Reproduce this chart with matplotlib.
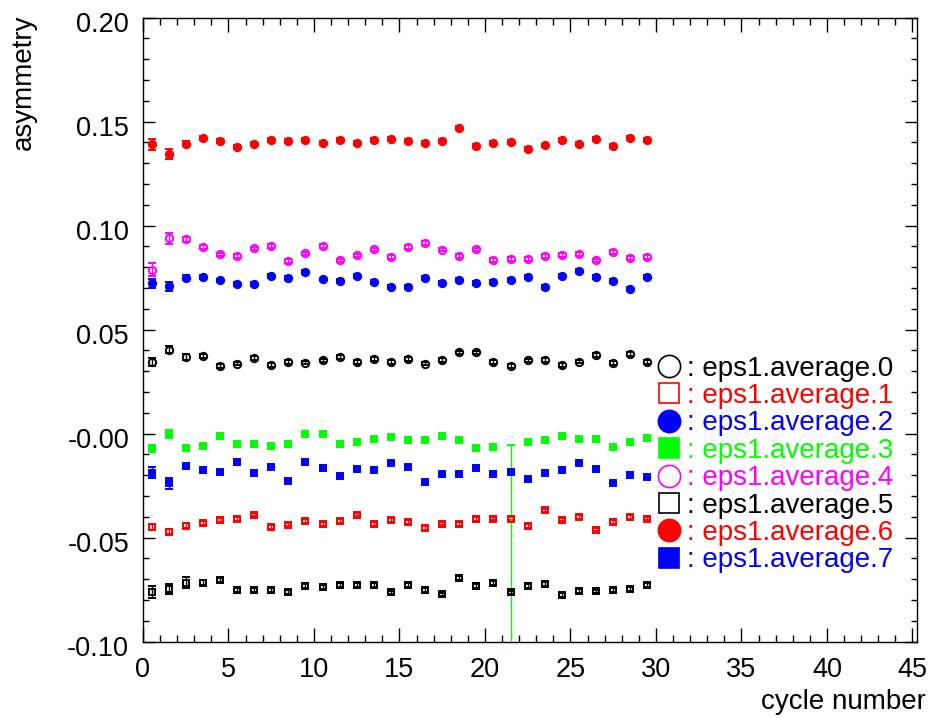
import matplotlib
matplotlib.use("Agg")
import matplotlib.pyplot as plt
from matplotlib.lines import Line2D
from matplotlib.ticker import MultipleLocator, FixedLocator
from matplotlib.transforms import ScaledTranslation

plt.rcParams['font.family'] = ['Liberation Sans', 'DejaVu Sans']

cycles = [0.5, 1.5, 2.5, 3.5, 4.5, 5.5, 6.5, 7.5, 8.5, 9.5,
          10.5, 11.5, 12.5, 13.5, 14.5, 15.5, 16.5, 17.5, 18.5, 19.5,
          20.5, 21.5, 22.5, 23.5, 24.5, 25.5, 26.5, 27.5, 28.5, 29.5]

avg0 = [0.0343, 0.0403, 0.0367, 0.0374, 0.0326, 0.0336, 0.0362, 0.0331, 0.0343, 0.0341,
        0.0351, 0.0367, 0.0343, 0.0359, 0.0344, 0.0359, 0.0336, 0.0353, 0.0390, 0.0390,
        0.0344, 0.0323, 0.0351, 0.0354, 0.0331, 0.0346, 0.0379, 0.0339, 0.0382, 0.0344]
avg1 = [-0.0449, -0.0472, -0.0443, -0.0432, -0.0417, -0.0412, -0.0390, -0.0451, -0.0438, -0.0419,
        -0.0435, -0.0419, -0.0390, -0.0435, -0.0417, -0.0424, -0.0454, -0.0433, -0.0436, -0.0412,
        -0.0409, -0.0409, -0.0445, -0.0370, -0.0414, -0.0401, -0.0462, -0.0425, -0.0401, -0.0409]
avg2 = [0.0722, 0.0707, 0.0749, 0.0754, 0.0736, 0.0717, 0.0720, 0.0757, 0.0747, 0.0775,
        0.0741, 0.0733, 0.0756, 0.0727, 0.0704, 0.0704, 0.0749, 0.0723, 0.0738, 0.0723,
        0.0730, 0.0738, 0.0754, 0.0704, 0.0759, 0.0783, 0.0752, 0.0733, 0.0694, 0.0752]
avg3 = [-0.0071, -0.0003, -0.0068, -0.0061, -0.0013, -0.0052, -0.0052, -0.0061, -0.0052, -0.0003,
        -0.0003, -0.0052, -0.0042, -0.0027, -0.0018, -0.0032, -0.0032, -0.0013, -0.0032, -0.0071,
        -0.0066, -0.2500, -0.0042, -0.0032, -0.0013, -0.0027, -0.0027, -0.0066, -0.0042, -0.0023]
avg4 = [0.0788, 0.0939, 0.0934, 0.0898, 0.0861, 0.0853, 0.0890, 0.0903, 0.0830, 0.0866,
        0.0900, 0.0832, 0.0856, 0.0885, 0.0847, 0.0897, 0.0915, 0.0884, 0.0852, 0.0885,
        0.0834, 0.0840, 0.0840, 0.0855, 0.0859, 0.0864, 0.0832, 0.0872, 0.0842, 0.0848]
avg5 = [-0.0762, -0.0749, -0.0717, -0.0717, -0.0706, -0.0753, -0.0754, -0.0754, -0.0761, -0.0733,
        -0.0737, -0.0730, -0.0730, -0.0727, -0.0764, -0.0729, -0.0754, -0.0774, -0.0693, -0.0732,
        -0.0717, -0.0764, -0.0732, -0.0722, -0.0777, -0.0758, -0.0759, -0.0753, -0.0748, -0.0727]
avg6 = [0.1390, 0.1343, 0.1393, 0.1421, 0.1408, 0.1377, 0.1393, 0.1411, 0.1406, 0.1410,
        0.1395, 0.1411, 0.1397, 0.1410, 0.1418, 0.1408, 0.1395, 0.1408, 0.1470, 0.1382,
        0.1398, 0.1400, 0.1368, 0.1385, 0.1410, 0.1393, 0.1416, 0.1381, 0.1419, 0.1410]
avg7 = [-0.0188, -0.0240, -0.0157, -0.0177, -0.0186, -0.0138, -0.0191, -0.0162, -0.0230, -0.0138,
        -0.0167, -0.0206, -0.0172, -0.0177, -0.0143, -0.0162, -0.0235, -0.0196, -0.0196, -0.0167,
        -0.0196, -0.0186, -0.0220, -0.0191, -0.0177, -0.0143, -0.0172, -0.0240, -0.0201, -0.0211]

err0 = [0.0020, 0.0018, 0.0015] + [0.0009] * 27
err1 = [0.0015, 0.0013, 0.0011] + [0.0009] * 27
err2 = [0.0022, 0.0022, 0.0012] + [0.0009] * 27
err3 = [0.0016, 0.0018, 0.0012] + [0.0009] * 18 + [0.2443] + [0.0009] * 8
err4 = [0.0030, 0.0026, 0.0012] + [0.0009] * 27
err5 = [0.0029, 0.0025, 0.0026, 0.0012] + [0.0009] * 26
err6 = [0.0026, 0.0025, 0.0012] + [0.0009] * 27
err7 = [0.0028, 0.0028, 0.0014] + [0.0009] * 27

labels = [": eps1.average.0", ": eps1.average.1", ": eps1.average.2", ": eps1.average.3",
          ": eps1.average.4", ": eps1.average.5", ": eps1.average.6", ": eps1.average.7"]
y_tick_values = [-0.10, -0.05, 0.0, 0.05, 0.10, 0.15, 0.20]
y_tick_labels = ["-0.10", "-0.05", "-0.00", "0.05", "0.10", "0.15", "0.20"]
x_label = "cycle number"
y_label = "asymmetry"

series = [avg0, avg1, avg2, avg3, avg4, avg5, avg6, avg7]
errors = [err0, err1, err2, err3, err4, err5, err6, err7]
colors = ['#000000', '#ff0000', '#0000ff', '#00ff00', '#ff00ff', '#000000', '#ff0000', '#0000ff']
markers = ['o', 's', 'o', 's', 'o', 's', 'o', 's']
filled = [False, False, True, True, False, False, True, True]

fig = plt.figure(figsize=(9.35, 7.19), dpi=100)
ax = fig.add_axes([143 / 935, 1 - 641.5 / 719, (917 - 143) / 935, (641.5 - 17.5) / 719])

for vals, errs, c, m, f in zip(series, errors, colors, markers, filled):
    ax.errorbar(cycles, vals, yerr=errs, fmt=m, color=c, ecolor=c,
                mfc=c if f else 'none', mec=c, ms=5.3 if m == 'o' else 5.0,
                mew=1.4, elinewidth=1.0, capsize=3.0, capthick=1.0, zorder=3)

ax.set_xlim(0, 45.27)
ax.set_ylim(-0.10, 0.20)
ax.xaxis.set_major_locator(MultipleLocator(5))
ax.xaxis.set_minor_locator(MultipleLocator(1))
ax.yaxis.set_major_locator(FixedLocator(y_tick_values))
ax.set_yticklabels(y_tick_labels)
ax.yaxis.set_minor_locator(MultipleLocator(0.01))

ax.tick_params(which='both', direction='in', top=True, right=True, labelsize=19.5, width=1.0)
ax.tick_params(axis='x', which='major', length=10, pad=11)
ax.tick_params(axis='x', which='minor', length=5)
ax.tick_params(axis='y', which='major', length=8.6, pad=10)
ax.tick_params(axis='y', which='minor', length=4.3)
for s in ax.spines.values():
    s.set_linewidth(1.0)

off = ScaledTranslation(0, -5 / 100, fig.dpi_scale_trans)
for lab in ax.get_yticklabels():
    lab.set_transform(lab.get_transform() + off)

fig.text(24 / 935, 1 - 15 / 719, y_label, rotation=90, ha='center', va='top', fontsize=20)
fig.text(926 / 935, (719 - 709) / 719, x_label, ha='right', va='baseline', fontsize=20)

handles = []
for c, m, f in zip(colors, markers, filled):
    handles.append(Line2D([], [], ls='none', marker=m, mfc=c if f else 'none', mec=c,
                          ms=16 if m == 'o' else 15, mew=1.2))
ax.legend(handles, labels, loc='upper left', bbox_to_anchor=(0.662, 0.458), frameon=False,
          fontsize=20, labelcolor=colors, handlelength=1.0, handletextpad=0.15,
          labelspacing=0.05, borderpad=0, borderaxespad=0)

fig.savefig("out.png", dpi=100)
